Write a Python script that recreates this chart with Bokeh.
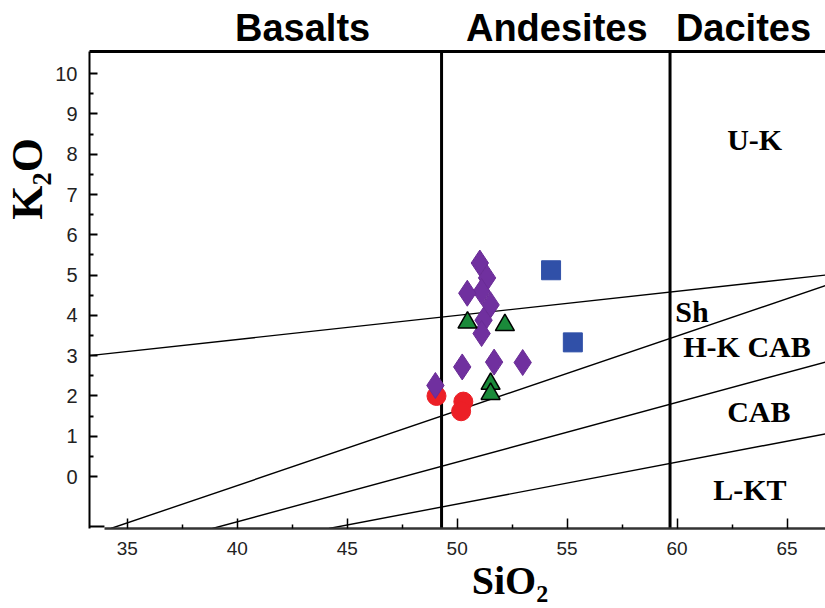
from bokeh.plotting import figure
from bokeh.models import Range1d, FixedTicker, LinearAxis
from bokeh.models import Label
from bokeh.embed import file_html
from bokeh.resources import INLINE

# ---- data ----
purple_x = [51.03, 51.36, 51.11, 50.46, 51.52, 51.20, 51.11, 50.23, 51.68, 52.98, 49.01]
purple_y = [5.30, 4.93, 4.59, 4.55, 4.26, 3.88, 3.55, 2.72, 2.84, 2.83, 2.26]
green_x = [50.47, 52.17, 51.52, 51.52]
green_y = [3.82, 3.76, 2.30, 2.05]
red_x = [49.06, 50.28, 50.18]
red_y = [2.00, 1.86, 1.62]
blue_x = [54.27, 55.26]
blue_y = [5.12, 3.33]

# classification lines (K2O vs SiO2)
line_x = [[33.28, 66.75], [34.25, 66.75], [38.87, 66.75], [44.17, 66.75]]
line_y = [[3.00, 5.00], [-1.29, 4.74], [-1.29, 2.84], [-1.29, 1.06]]
boundary_x = [49.29, 59.68]

x_ticks = [35, 40, 45, 50, 55, 60, 65]
x_minor = [37.5, 42.5, 47.5, 52.5, 57.5, 62.5]
y_ticks = list(range(0, 11))
y_minor = [i + 0.5 for i in range(0, 10)]

rock_names = ["Basalts", "Andesites", "Dacites"]
rock_x = [42.97, 54.53, 63.02]
series_names = ["U-K", "Sh", "H-K CAB", "CAB", "L-KT"]
series_x = [62.28, 59.92, 60.28, 62.28, 61.64]
series_y = [8.36, 4.09, 3.22, 1.61, -0.33]
x_title = "SiO₂"
x_title_pos = 52.4
y_title = "K₂O"
y_title_pos = 7.39

XMIN, XMAX = 33.28, 66.75
YMIN, YMAX = -1.29, 10.55
X_AXIS_START = 33.96

p = figure(width=825, height=608, x_range=Range1d(XMIN, XMAX), y_range=Range1d(YMIN, YMAX),
           min_border_left=87, min_border_right=0, min_border_top=51, min_border_bottom=80,
           toolbar_location=None, output_backend="svg", x_axis_location=None, y_axis_location=None)
p.outline_line_color = None
p.xgrid.visible = False
p.ygrid.visible = False
p.background_fill_color = "white"
p.border_fill_color = "white"

SANS = "Liberation Sans"
SERIF = "Liberation Serif"


def bare(axis):
    axis.major_tick_in = 0
    axis.major_tick_out = 0
    axis.minor_tick_in = 0
    axis.minor_tick_out = 0
    axis.major_tick_line_color = None
    axis.minor_tick_line_color = None
    axis.axis_line_color = None


# left axis with ticks
ya = LinearAxis(ticker=FixedTicker(ticks=y_ticks, minor_ticks=y_minor))
ya.axis_line_width = 2
ya.axis_line_color = "black"
ya.major_tick_in = 8
ya.major_tick_out = 0
ya.minor_tick_in = 4
ya.minor_tick_out = 0
ya.major_tick_line_width = 2
ya.minor_tick_line_width = 2
ya.major_label_text_font = SANS
ya.major_label_text_font_size = "20px"
ya.major_label_text_color = "#222222"
ya.major_label_standoff = 12
p.add_layout(ya, "left")

# left title (K2O) as a rotated tick label of a bare axis
yt = LinearAxis(ticker=FixedTicker(ticks=[y_title_pos]))
bare(yt)
yt.major_label_overrides = {y_title_pos: y_title}
yt.major_label_orientation = "vertical"
yt.major_label_text_font = SERIF
yt.major_label_text_font_style = "bold"
yt.major_label_text_font_size = "44px"
yt.major_label_text_color = "black"
yt.major_label_standoff = 0
p.add_layout(yt, "left")

# bottom axis
xa = LinearAxis(ticker=FixedTicker(ticks=x_ticks, minor_ticks=x_minor), bounds=(X_AXIS_START, XMAX))
xa.axis_line_width = 2.5
xa.axis_line_color = "#333333"
xa.major_tick_in = 10
xa.major_tick_out = 0
xa.minor_tick_in = 4
xa.minor_tick_out = 0
xa.major_tick_line_width = 1.5
xa.minor_tick_line_width = 1.5
xa.major_label_text_font = SANS
xa.major_label_text_font_size = "19px"
xa.major_label_text_color = "#222222"
xa.major_label_standoff = 13
p.add_layout(xa, "below")

# bottom title (SiO2)
xt = LinearAxis(ticker=FixedTicker(ticks=[x_title_pos]))
bare(xt)
xt.major_label_overrides = {x_title_pos: x_title}
xt.major_label_text_font = SERIF
xt.major_label_text_font_style = "bold"
xt.major_label_text_font_size = "40px"
xt.major_label_text_color = "black"
xt.major_label_standoff = 0
p.add_layout(xt, "below")

# top axis line with rock-type names
ta = LinearAxis(ticker=FixedTicker(ticks=rock_x))
ta.axis_line_width = 3
ta.axis_line_color = "black"
ta.major_tick_line_color = None
ta.minor_tick_line_color = None
ta.major_tick_in = 0
ta.major_tick_out = 0
ta.minor_tick_in = 0
ta.minor_tick_out = 0
ta.major_label_overrides = {v: n for v, n in zip(rock_x, rock_names)}
ta.major_label_text_font = SANS
ta.major_label_text_font_style = "bold"
ta.major_label_text_font_size = "38px"
ta.major_label_text_color = "black"
ta.major_label_standoff = 3
p.add_layout(ta, "above")

# classification lines
p.multi_line(xs=line_x, ys=line_y, line_color="black", line_width=1.4)
p.segment(x0=boundary_x, y0=[YMIN] * len(boundary_x), x1=boundary_x, y1=[YMAX] * len(boundary_x),
          line_color="black", line_width=3)
# short corner stub of the left axis at the bottom
p.segment(x0=[XMIN], y0=[-1.24], x1=[X_AXIS_START], y1=[-1.24], line_color="black", line_width=2)

# points
p.scatter(red_x, red_y, marker="circle", size=19, fill_color="#ec1f26", line_color="#ec1f26")
p.scatter(purple_x, purple_y, marker="diamond", size=26, fill_color="#70309f", line_color="#6a2c96")
p.scatter(green_x, green_y, marker="triangle", size=19, fill_color="#1a8a3a", line_color="black", line_width=1.5)
p.scatter(blue_x, blue_y, marker="square", size=19, fill_color="#3050a8", line_color="#3050a8")

# series names
for name, xx, yy in zip(series_names, series_x, series_y):
    p.add_layout(Label(x=xx, y=yy, text=name, text_font=SERIF, text_font_style="bold",
                       text_font_size="30px", text_color="black", text_align="left",
                       text_baseline="alphabetic"))

open("out.html", "w").write(file_html(p, INLINE))
